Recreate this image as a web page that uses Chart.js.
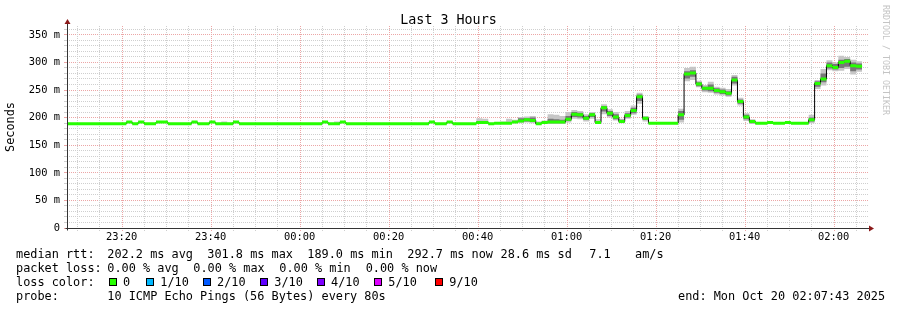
<!DOCTYPE html>
<html>
<head>
<meta charset="utf-8">
<title>Last 3 Hours</title>
<script src="https://cdn.jsdelivr.net/npm/chart.js@4.4.1/dist/chart.umd.min.js"></script>
<style>
  html, body { margin: 0; padding: 0; background: #fff; }
  #wrap { position: relative; width: 897px; height: 310px; overflow: hidden; }
  #wrap canvas { position: absolute; left: 0; top: 0; }
  .txt { position: absolute; font-family: 'DejaVu Sans Mono', monospace; font-size: 11.86px; line-height: 14px; color: #000; white-space: pre; }
  .title { position: absolute; left: 0; width: 897px; top: 12px; text-align: center; font-family: 'DejaVu Sans Mono', monospace; font-size: 13.35px; line-height: 15px; color: #000; }
  .mark { position: absolute; left: 881px; top: 5px; writing-mode: vertical-rl; font-family: 'DejaVu Sans Mono', monospace; font-size: 8.3px; color: #c4c4c4; white-space: pre; }
  .box { position: absolute; width: 6px; height: 6px; border: 1px solid #000; top: 278px; }
</style>
</head>
<body>
<div id="wrap">
  <canvas id="rtt" width="897" height="310"></canvas>
  <div class="title">Last 3 Hours</div>
  <div class="mark">RRDTOOL / TOBI OETIKER</div>
  <div id="legend"></div>
</div>
<script>
// 80 s steps, first step starts 23:07:43 (minutes relative to midnight)
const startMin = -(52 + 17 / 60);
const stepMin = 80 / 60;
const spanMin = 180;

// labelled time ticks (every 20 min), minutes relative to midnight
const timeTicks = [-40, -20, 0, 20, 40, 60, 80, 100, 120];
const timeLabels = ['23:20', '23:40', '00:00', '00:20', '00:40', '01:00', '01:20', '01:40', '02:00'];

// median rtt per step (ms)
const median = [
  189,189,189,189,189,189,189,189,189,189,
  192,189,192,189,189,192,192,189,189,189,
  189,192,189,189,192,189,189,189,192,189,
  189,189,189,189,189,189,189,189,189,189,
  189,189,189,192,189,189,192,189,189,189,
  189,189,189,189,189,189,189,189,189,189,
  189,192,189,189,192,189,189,189,189,191,
  191,189,190,190,190,192,194,196,195,189,
  191,192,192,192,197,206,205,199,205,191,
  218,208,201,193,204,213,238,199,190,190,
  190,190,190,205,279,281,261,253,253,249,
  247,244,268,229,201,193,190,190,191,190,
  190,191,190,190,190,196,262,270,294,291,
  300,302,294,293
];

// smoke: fastest / slowest ping per step
const smokeMin = [
  189,189,189,189,189,189,189,189,189,189,
  192,189,192,189,189,192,192,189,189,189,
  189,192,189,189,192,189,189,189,192,189,
  189,189,189,189,189,189,189,189,189,189,
  189,189,189,192,189,189,192,189,189,189,
  189,189,189,189,189,189,189,189,189,189,
  189,192,189,189,192,189,189,189,189,189,
  189,188,189,189,189,190,190,191,190,188,
  189,189,189,189,191,198,197,193,198,189,
  206,200,195,190,198,205,225,193,189,189,
  189,189,189,191,266,268,255,246,245,242,
  240,238,258,222,194,189,190,190,191,190,
  190,191,190,190,190,190,252,258,286,284,
  285,288,278,283
];
const smokeMax = [
  189,189,189,189,189,189,189,189,189,189,
  192,189,192,189,189,192,192,189,189,189,
  189,192,189,189,192,189,193,189,192,189,
  189,189,189,189,189,189,189,189,189,189,
  189,189,189,192,189,193,192,189,189,189,
  189,189,189,189,189,189,189,189,189,189,
  189,192,189,189,192,189,189,189,189,199,
  198,190,192,193,198,196,201,202,203,193,
  195,206,205,203,210,214,212,206,210,197,
  224,215,210,198,212,222,245,203,191,191,
  191,191,191,216,290,292,267,259,265,256,
  254,252,277,236,208,197,190,190,191,190,
  190,191,190,190,190,205,268,288,304,300,
  312,310,305,302
];
// smoke: inner pings (dark band)
const smokeLo = [
  189,189,189,189,189,189,189,189,189,189,
  192,189,192,189,189,192,192,189,189,189,
  189,192,189,189,192,189,189,189,192,189,
  189,189,189,189,189,189,189,189,189,189,
  189,189,189,192,189,189,192,189,189,189,
  189,189,189,189,189,189,189,189,189,189,
  189,192,189,189,192,189,189,189,189,190,
  190,189,190,190,189,191,192,193,192,189,
  190,190,190,190,194,201,200,196,201,190,
  211,203,197,191,200,208,230,196,190,190,
  190,190,190,196,271,274,257,249,248,245,
  243,240,262,225,197,190,190,190,191,190,
  190,191,190,190,190,193,256,264,289,287,
  290,292,284,287
];
const smokeHi = [
  189,189,189,189,189,189,189,189,189,189,
  192,189,192,189,189,192,192,189,189,189,
  189,192,189,189,192,189,189,189,192,189,
  189,189,189,189,189,189,189,189,189,189,
  189,189,189,192,189,189,192,189,189,189,
  189,189,189,189,189,189,189,189,189,189,
  189,192,189,189,192,189,189,189,189,194,
  193,189,190,191,192,194,199,199,200,190,
  192,198,197,196,203,210,209,203,208,193,
  221,212,206,196,208,218,242,201,190,190,
  190,190,190,212,284,286,264,256,260,253,
  251,248,274,233,205,195,190,190,191,190,
  190,191,190,190,190,200,266,280,300,297,
  305,306,300,298
];

const lossLabels = ['0', '1/10', '2/10', '3/10', '4/10', '5/10', '9/10'];
const lossColors = ['#26ff00', '#00b8ff', '#0059ff', '#5e00ff', '#7e00ff', '#dd00ff', '#ff0000'];

const stepTime = i => startMin + i * stepMin;

// stepped series: each value holds until the next step
function stepPoints(vals) {
  const pts = vals.map((v, i) => ({ x: stepTime(i), y: v }));
  pts.push({ x: stepTime(vals.length), y: vals[vals.length - 1] });
  return pts;
}
// flat pieces only (no risers), for the loss coloured median
function flatPieces(vals) {
  const pts = [];
  vals.forEach((v, i) => {
    pts.push({ x: stepTime(i), y: v }, { x: stepTime(i + 1), y: v }, { x: stepTime(i + 1), y: null });
  });
  return pts;
}

const minorGrid = '#cfcfcf';
const majorGrid = '#eca6a6';

// vertical time grid: dotted, every 5 min, red on the labelled marks
const timeGrid = {
  id: 'timeGrid',
  beforeDatasetsDraw(chart) {
    const { ctx, chartArea: a } = chart;
    const xs = chart.scales.x;
    ctx.save();
    ctx.lineWidth = 1;
    ctx.setLineDash([1, 1]);
    for (let m = timeTicks[0] - 10; m <= xs.max; m += 5) {
      if (m < xs.min) continue;
      const px = Math.round(xs.getPixelForValue(m)) + 0.5;
      ctx.strokeStyle = timeTicks.includes(m) ? majorGrid : minorGrid;
      ctx.beginPath();
      ctx.moveTo(px, a.top);
      ctx.lineTo(px, a.bottom + 3);
      ctx.stroke();
    }
    ctx.restore();
  }
};

const axisArrows = {
  id: 'axisArrows',
  afterDatasetsDraw(chart) {
    const { ctx, chartArea: a } = chart;
    const x0 = Math.round(a.left) + 0.5;
    const y0 = Math.round(a.bottom) + 0.5;
    ctx.save();
    ctx.strokeStyle = '#333';
    ctx.lineWidth = 1;
    ctx.beginPath();
    ctx.moveTo(x0, y0 + 2);
    ctx.lineTo(x0, a.top - 3);
    ctx.moveTo(x0 - 2, y0);
    ctx.lineTo(a.right + 3, y0);
    ctx.stroke();
    ctx.fillStyle = '#8b1a1a';
    ctx.beginPath();
    ctx.moveTo(x0 - 3, a.top - 2);
    ctx.lineTo(x0 + 3, a.top - 2);
    ctx.lineTo(x0, a.top - 7);
    ctx.closePath();
    ctx.fill();
    ctx.beginPath();
    ctx.moveTo(a.right + 1, y0 - 3);
    ctx.lineTo(a.right + 1, y0 + 3);
    ctx.lineTo(a.right + 6, y0);
    ctx.closePath();
    ctx.fill();
    ctx.restore();
  }
};

const band = (vals, fill, color) => ({
  data: stepPoints(vals),
  stepped: true,
  fill: fill,
  backgroundColor: color,
  borderColor: 'rgba(0,0,0,0)',
  borderWidth: 0,
  pointRadius: 0
});

const rttChart = new Chart(document.getElementById('rtt'), {
  type: 'line',
  data: {
    datasets: [
      {
        label: 'median',
        data: flatPieces(median),
        borderColor: lossColors[0],
        borderWidth: 3,
        borderCapStyle: 'butt',
        pointRadius: 0,
        fill: false,
        spanGaps: false
      },
      {
        label: 'median line',
        data: stepPoints(median),
        stepped: true,
        borderColor: '#000',
        borderWidth: 1,
        pointRadius: 0,
        fill: false
      },
      band(smokeHi, '+1', '#777777'),
      band(smokeLo, false, 'rgba(0,0,0,0)'),
      band(smokeMax, '+1', '#c6c6c6'),
      band(smokeMin, false, 'rgba(0,0,0,0)')
    ]
  },
  options: {
    responsive: false,
    animation: false,
    devicePixelRatio: 1,
    layout: { padding: { top: 26, right: 29, bottom: 0, left: 0 } },
    plugins: {
      legend: { display: false },
      tooltip: { enabled: false },
      title: { display: false }
    },
    scales: {
      x: {
        type: 'linear',
        min: startMin,
        max: startMin + spanMin,
        afterFit: s => { s.height = 82; },
        afterBuildTicks: s => {
          s.ticks = timeTicks.filter(m => m >= s.min && m <= s.max).map(m => ({ value: m }));
        },
        border: { display: false },
        grid: {
          color: 'rgba(0,0,0,0)',
          tickLength: 3,
          drawTicks: true
        },
        ticks: {
          maxTicksLimit: 100,
          autoSkip: false,
          maxRotation: 0,
          minRotation: 0,
          padding: 0,
          color: '#000',
          font: { family: 'DejaVu Sans Mono', size: 10.4 },
          callback: v => {
            const k = timeTicks.indexOf(v);
            return k >= 0 ? timeLabels[k] : '';
          }
        }
      },
      y: {
        min: 0,
        max: 366,
        afterFit: s => { s.width = 67; },
        border: { display: false, dash: [1, 1] },
        grid: {
          color: c => (c.tick && c.tick.value % 50 === 0 ? majorGrid : minorGrid),
          tickLength: 3,
          drawTicks: true
        },
        title: {
          display: true,
          text: 'Seconds',
          color: '#000',
          font: { family: 'DejaVu Sans Mono', size: 11.86 }
        },
        ticks: {
          stepSize: 10,
          maxTicksLimit: 100,
          includeBounds: false,
          autoSkip: false,
          padding: 4,
          color: '#000',
          font: { family: 'DejaVu Sans Mono', size: 10.4 },
          callback: v => (v % 50 === 0 ? (v === 0 ? '0' : v + ' m') : '')
        }
      }
    }
  },
  plugins: [timeGrid, axisArrows]
});

// text legend under the graph
const legendItems = [
  [16, 247, 'median rtt:'], [107.3, 247, '202.2 ms avg'], [207.3, 247, '301.8 ms max'],
  [307.3, 247, '189.0 ms min'], [407.3, 247, '292.7 ms now'], [500.5, 247, '28.6 ms sd'],
  [589.3, 247, '7.1'], [635, 247, 'am/s'],
  [16, 261, 'packet loss:'], [107.3, 261, '0.00 % avg'], [193.3, 261, '0.00 % max'],
  [279.3, 261, '0.00 % min'], [365.7, 261, '0.00 % now'],
  [16, 275, 'loss color:'],
  [16, 289, 'probe:'], [107.3, 289, '10 ICMP Echo Pings (56 Bytes) every 80s'],
  [678, 289, 'end: Mon Oct 20 02:07:43 2025']
];
const boxX = [108.7, 146, 202.7, 260, 316.7, 374, 435];
const legend = document.getElementById('legend');
legendItems.forEach(([x, y, s]) => {
  const d = document.createElement('div');
  d.className = 'txt';
  d.style.left = x + 'px';
  d.style.top = y + 'px';
  d.textContent = s;
  legend.appendChild(d);
});
lossLabels.forEach((lab, i) => {
  const b = document.createElement('div');
  b.className = 'box';
  b.style.left = boxX[i] + 'px';
  b.style.background = lossColors[i];
  legend.appendChild(b);
  const d = document.createElement('div');
  d.className = 'txt';
  d.style.left = (boxX[i] + 14.3) + 'px';
  d.style.top = '275px';
  d.textContent = lab;
  legend.appendChild(d);
});
</script>
</body>
</html>
